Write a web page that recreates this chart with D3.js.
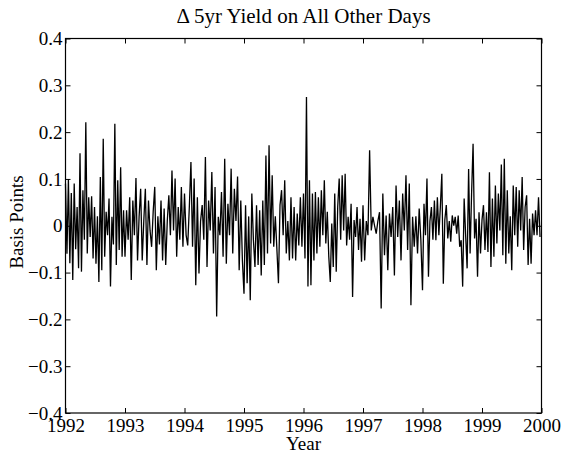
<!DOCTYPE html>
<html>
<head>
<meta charset="utf-8">
<script src="https://cdn.jsdelivr.net/npm/d3@7"></script>
<style>
    body { margin: 0; background: #fff; }
    svg { font-family: "Liberation Serif", "Times New Roman", serif; }
    .line { fill: none; stroke: #000; stroke-width: 1.3px; }
</style>
</head>
<body>
<div id="chart"></div>
<script>
    // daily change in 5yr yield (roughly one value per 1.5px)
    var years = [1992, 1993, 1994, 1995, 1996, 1997, 1998, 1999];
    var y1992 = [0.09, -0.06, 0.10, -0.08, 0.07, -0.116, 0.09, -0.05, 0.04, -0.091, 0.155, -0.098, 0.076, -0.03, 0.221, -0.059, 0.061, -0.024, 0.063, -0.070, 0.040, -0.081, 0.02, -0.120, 0.104, -0.095, 0.186, -0.066, 0.03, -0.02, 0.058, -0.130, 0.019, -0.04, 0.218, -0.084, 0.097, -0.052, 0.125, -0.066, 0.033];
    var y1993 = [-0.066, 0.033, -0.03, 0.061, -0.116, 0.054, -0.02, 0.102, -0.074, 0.019, 0.079, -0.074, 0.01, 0.079, -0.084, 0.054, -0.01, -0.045, 0.03, 0.083, -0.095, 0.02, -0.04, 0.054, -0.074, 0.037, -0.084, 0.01, 0.065, -0.02, 0.118, -0.010, 0.101, -0.066, 0.040, -0.03, 0.083, -0.045];
    var y1994 = [0.069, -0.02, -0.042, 0.04, 0.136, -0.045, 0.101, -0.127, 0.061, -0.102, 0.01, 0.044, -0.03, 0.147, -0.088, 0.054, -0.01, 0.115, -0.059, 0.083, -0.194, 0.019, -0.02, 0.072, -0.066, 0.143, -0.081, 0.047, -0.02, 0.122, -0.059, 0.079, 0.01, 0.105, -0.095, 0.054, -0.074];
    var y1995 = [-0.145, 0.044, -0.123, 0.02, -0.159, 0.069, -0.03, -0.088, 0.044, -0.084, 0.033, -0.106, 0.054, -0.084, 0.150, -0.059, 0.172, -0.038, 0.108, -0.045, 0.02, -0.05, -0.123, 0.044, 0.076, -0.02, 0.097, -0.059, 0.01, -0.074, 0.061, -0.070, 0.040, -0.074, 0.026, -0.042, 0.061, -0.045];
    var y1996 = [0.069, -0.070, 0.275, -0.130, 0.097, -0.127, 0.069, -0.074, 0.072, -0.059, 0.061, -0.045, 0.076, -0.02, 0.097, -0.038, 0.03, -0.066, -0.120, 0.005, -0.088, 0.069, -0.098, 0.04, 0.101, -0.03, 0.108, -0.010, 0.111, -0.042, 0.019, -0.03, 0.047, -0.152, 0.012, -0.024, 0.040, -0.052, 0.015, -0.077];
    var y1997 = [0.044, -0.074, 0.01, -0.02, 0.161, -0.010, 0.019, 0.0, -0.017, 0.01, 0.029, -0.177, 0.069, -0.063, 0.022, -0.095, 0.026, -0.024, 0.04, -0.106, 0.086, -0.024, 0.054, -0.074, 0.069, -0.01, 0.108, -0.052, 0.090, -0.170, 0.019, -0.045, 0.02, -0.059, 0.037, -0.03];
    var y1998 = [-0.138, 0.047, -0.02, 0.101, -0.109, 0.01, 0.040, -0.03, 0.054, -0.031, 0.061, -0.02, 0.040, 0.111, -0.124, 0.012, 0.044, -0.027, 0.01, -0.034, 0.022, 0.0, 0.019, -0.017, 0.022, -0.045, -0.031, -0.130, 0.058, -0.02, -0.091, 0.121, -0.059, 0.069, 0.175, -0.027, 0.015, -0.109, 0.029, -0.059];
    var y1999 = [0.012, 0.044, -0.052, 0.029, -0.056, 0.114, -0.088, 0.058, -0.066, 0.086, -0.038, 0.069, -0.01, 0.131, -0.063, 0.143, -0.081, 0.076, -0.059, 0.02, -0.095, 0.086, -0.02, 0.083, -0.045, 0.076, -0.01, 0.104, -0.052, 0.040, 0.065, -0.084, 0.015, -0.081, 0.026, -0.02, 0.033, -0.020, 0.061, -0.024];

    var xTicks = [1992, 1993, 1994, 1995, 1996, 1997, 1998, 1999, 2000];
    var yTicks = [-0.4, -0.3, -0.2, -0.1, 0, 0.1, 0.2, 0.3, 0.4];

    var width = 561,
        height = 454;

    var x = d3.scaleLinear().domain([1992, 2000]).range([65.5, 541.5]);
    var y = d3.scaleLinear().domain([-0.4, 0.4]).range([413, 38.5]);

    // spread each year's values evenly over that year
    var series = [y1992, y1993, y1994, y1995, y1996, y1997, y1998, y1999];
    var data = [];
    series.forEach(function(vals, k) {
        vals.forEach(function(v, i) {
            data.push({t: years[k] + i / vals.length, v: v});
        });
    });

    var svg = d3.select("#chart")
        .append("svg")
        .attr("width", width)
        .attr("height", height);

    svg.append("rect")
        .attr("width", width)
        .attr("height", height)
        .attr("fill", "#fff");

    var line = d3.line()
        .x(function(d) { return x(d.t); })
        .y(function(d) { return y(d.v); });

    svg.append("path")
        .datum(data)
        .attr("class", "line")
        .attr("d", line);

    /* ------- AXES (matlab style, ticks inward on all sides) -------*/
    var yFmt = function(d) { return d === 0 ? "0" : d3.format(".1f")(d); };

    var gx = svg.append("g")
        .attr("transform", "translate(0," + y(-0.4) + ")")
        .call(d3.axisBottom(x).tickValues(xTicks).tickFormat(d3.format("d")).tickSize(-5).tickPadding(6));
    var gxTop = svg.append("g")
        .attr("transform", "translate(0," + y(0.4) + ")")
        .call(d3.axisTop(x).tickValues(xTicks).tickFormat("").tickSize(-5));
    var gy = svg.append("g")
        .attr("transform", "translate(" + x(1992) + ",0)")
        .call(d3.axisLeft(y).tickValues(yTicks).tickFormat(yFmt).tickSize(-5).tickPadding(3));
    var gyRight = svg.append("g")
        .attr("transform", "translate(" + x(2000) + ",0)")
        .call(d3.axisRight(y).tickValues(yTicks).tickFormat("").tickSize(-5));

    [gx, gxTop, gy, gyRight].forEach(function(g) {
        g.attr("font-family", null).attr("font-size", null);
        g.select(".domain").remove();
        g.selectAll("line").attr("stroke", "#000");
        g.selectAll("text").attr("fill", "#000").style("font-size", "19px");
    });

    svg.append("rect")
        .attr("x", x(1992))
        .attr("y", y(0.4))
        .attr("width", x(2000) - x(1992))
        .attr("height", y(-0.4) - y(0.4))
        .attr("fill", "none")
        .attr("stroke", "#000")
        .attr("stroke-width", 1.2);

    /* ------- LABELS -------*/
    svg.append("text")
        .attr("x", (x(1992) + x(2000)) / 2)
        .attr("y", 23)
        .attr("text-anchor", "middle")
        .style("font-size", "21px")
        .text("\u0394 5yr Yield on All Other Days");

    svg.append("text")
        .attr("x", (x(1992) + x(2000)) / 2)
        .attr("y", 450)
        .attr("text-anchor", "middle")
        .style("font-size", "19px")
        .text("Year");

    svg.append("text")
        .attr("transform", "translate(23,222) rotate(-90)")
        .attr("text-anchor", "middle")
        .style("font-size", "19px")
        .text("Basis Points");
</script>
</body>
</html>
